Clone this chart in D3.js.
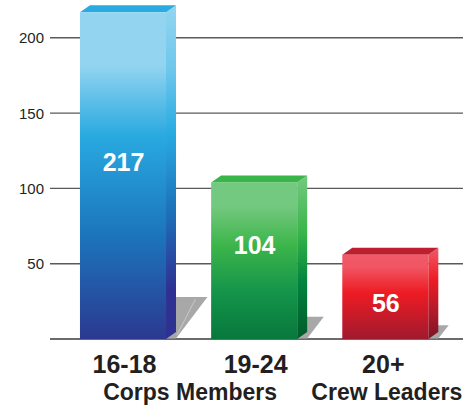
<!DOCTYPE html>
<html><head><meta charset="utf-8">
<script src="https://cdn.jsdelivr.net/npm/d3@7"></script>
<style>html,body{margin:0;padding:0;background:#fff;}svg{display:block;}</style>
</head><body>
<script>
// ---- data ----
const ageGroups = ["16-18", "19-24", "20+"];
const participants = [217, 104, 56];
const groupNames = ["Corps Members", "Crew Leaders"];
const groupSpans = [[0, 1], [2, 2]];
const tickValues = [50, 100, 150, 200];

// ---- layout ----
const W = 474, H = 405;
const svg = d3.select("body").append("svg").attr("width", W).attr("height", H);
const defs = svg.append("defs");

const y = d3.scaleLinear().domain([0, 200]).range([339, 37.8]);
const x = d3.scaleBand().domain(ageGroups).range([14.4, 493.9]).paddingInner(0.344).paddingOuter(0.5);
const base = y(0);
const dx = 10, dy = 7;

const palettes = [
  { front: [["0%", "#93d5f0"], ["16%", "#93d5f0"], ["38%", "#29a9e0"], ["68%", "#1c75bc"], ["100%", "#2b3990"]],
    side:  [["0%", "#93d5f0"], ["20%", "#6cc6ec"], ["38%", "#29abe2"], ["60%", "#1c75bc"], ["85%", "#2e3192"], ["100%", "#2e3192"]],
    top: "#29abe2" },
  { front: [["0%", "#74c980"], ["15%", "#74c980"], ["40%", "#3db54a"], ["70%", "#14944a"], ["100%", "#08783c"]],
    side:  [["0%", "#74c980"], ["35%", "#39b54a"], ["65%", "#00843f"], ["100%", "#005a2a"]],
    top: "#39b54a" },
  { front: [["0%", "#f15a6a"], ["15%", "#f05562"], ["45%", "#ed1c24"], ["75%", "#c41a2a"], ["100%", "#a01a2e"]],
    side:  [["0%", "#f05a6a"], ["35%", "#ed1c24"], ["70%", "#b01a2c"], ["100%", "#7d1426"]],
    top: "#be1e2d" }
];

palettes.forEach((p, i) => {
  ["front", "side"].forEach(k => {
    const g = defs.append("linearGradient").attr("id", k + i)
      .attr("x1", 0).attr("y1", 0).attr("x2", 0).attr("y2", 1);
    p[k].forEach(s => g.append("stop").attr("offset", s[0]).attr("stop-color", s[1]));
  });
});

// gridlines and axis labels
const grid = svg.append("g");
grid.selectAll("line").data([0].concat(tickValues)).join("line")
  .attr("x1", 50).attr("x2", 463)
  .attr("y1", d => y(d)).attr("y2", d => y(d))
  .attr("stroke", d => d === 0 ? "#3a3a3a" : "#5a5a5a").attr("stroke-width", 1.4);

grid.selectAll("text").data(tickValues).join("text")
  .attr("x", 44).attr("y", d => y(d) + 5.5)
  .attr("text-anchor", "end")
  .attr("font-family", "Liberation Sans, Arial, sans-serif")
  .attr("font-size", 15).attr("fill", "#231f20")
  .text(d => d);

// bars
const labelFrac = [0.457, 0.40, 0.57];
const bars = svg.append("g").selectAll("g").data(participants).join("g");

bars.each(function(v, i) {
  const g = d3.select(this);
  const x0 = x(ageGroups[i]), bw = x.bandwidth(), x1 = x0 + bw;
  const yt = y(v), hBar = base - yt;
  // shadow
  const sh = 4 + 0.116 * hBar, s = 0.75;
  g.append("path")
    .attr("d", `M${x1},${base - 0.5} L${x1 + dx},${base - 0.5} L${x1 + dx + s * sh},${base - sh} L${x1 + 3},${base - sh} Z`)
    .attr("fill", "#a8a8a8");
  if (i === 0) {
    g.append("line")
      .attr("x1", x1 + dx + 1).attr("y1", base - 4)
      .attr("x2", x1 + dx + s * sh - 12).attr("y2", base - sh + 2)
      .attr("stroke", "#d0d0d0").attr("stroke-width", 0.8);
  }
  // side
  g.append("path")
    .attr("d", `M${x1},${yt} L${x1 + dx},${yt - dy} L${x1 + dx},${base - dy} L${x1},${base} Z`)
    .attr("fill", `url(#side${i})`);
  // top
  g.append("path")
    .attr("d", `M${x0},${yt} L${x0 + dx},${yt - dy} L${x1 + dx},${yt - dy} L${x1},${yt} Z`)
    .attr("fill", palettes[i].top);
  // front
  g.append("rect")
    .attr("x", x0).attr("y", yt).attr("width", bw).attr("height", hBar)
    .attr("fill", `url(#front${i})`);
  // value label
  g.append("text")
    .attr("x", x0 + bw / 2 + 0.5).attr("y", yt + hBar * labelFrac[i])
    .attr("dy", "0.36em")
    .attr("text-anchor", "middle")
    .attr("font-family", "Liberation Sans, Arial, sans-serif")
    .attr("font-weight", "bold").attr("font-size", 25).attr("fill", "#ffffff")
    .text(v);
});

// category labels
const lab = svg.append("g")
  .attr("font-family", "Liberation Sans, Arial, sans-serif")
  .attr("font-weight", "bold").attr("fill", "#231f20").attr("text-anchor", "middle");
lab.selectAll("text.age").data(ageGroups).join("text").attr("class", "age")
  .attr("x", d => x(d) + x.bandwidth() / 2 + (d === "20+" ? -2 : 1.5))
  .attr("y", 372.5).attr("font-size", 25)
  .text(d => d);
lab.selectAll("text.grp").data(groupNames).join("text").attr("class", "grp")
  .attr("x", (d, i) => {
    const [a, b] = groupSpans[i];
    return (x(ageGroups[a]) + x(ageGroups[b]) + x.bandwidth()) / 2 + 1.5;
  })
  .attr("y", 400).attr("font-size", 23)
  .text(d => d);
</script>
</body></html>
